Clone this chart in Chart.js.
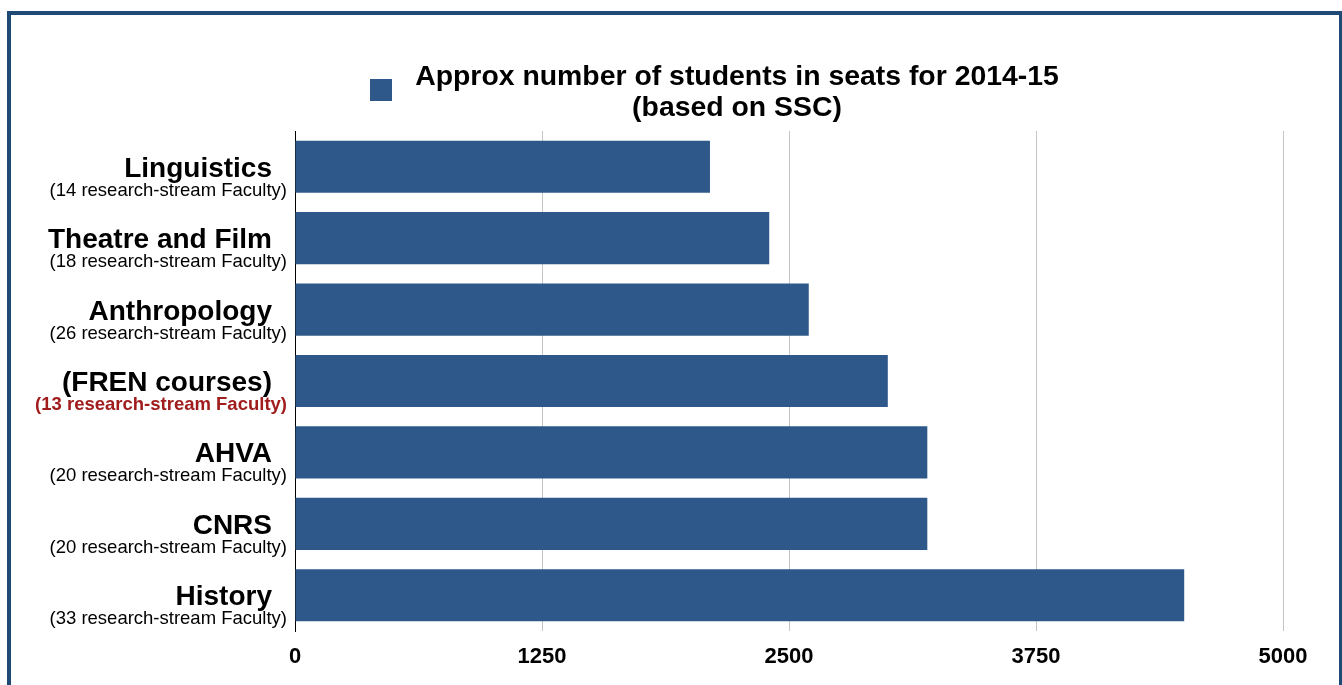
<!DOCTYPE html>
<html>
<head>
<meta charset="utf-8">
<script src="https://cdn.jsdelivr.net/npm/chart.js@4"></script>
<style>
  html, body { margin: 0; padding: 0; background: #fff; }
  #wrap { position: relative; width: 1342px; height: 685px; overflow: hidden; }
  #frame { position: absolute; left: 7px; top: 11px; width: 1328px; height: 700px;
           border: 4px solid #1f4a75; border-bottom: none; }
  canvas { position: absolute; left: 0; top: 0; }
</style>
</head>
<body>
<div id="wrap">
  <div id="frame"></div>
  <canvas id="chart" width="1342" height="685"></canvas>
</div>
<script>
// ---------- Data ----------
const departments = ['Linguistics', 'Theatre and Film', 'Anthropology', '(FREN courses)', 'AHVA', 'CNRS', 'History'];
const faculty = [
  '(14 research-stream Faculty)',
  '(18 research-stream Faculty)',
  '(26 research-stream Faculty)',
  '(13 research-stream Faculty)',
  '(20 research-stream Faculty)',
  '(20 research-stream Faculty)',
  '(33 research-stream Faculty)',
];
const highlighted = [false, false, false, true, false, false, false];
const seats = [2100, 2400, 2600, 3000, 3200, 3200, 4500];
const xTicks = [0, 1250, 2500, 3750, 5000];
const seriesTitle = ['Approx number of students in seats for 2014-15', '(based on SSC)'];

const BAR = '#2e5889';
const FONT = '"Liberation Sans", Arial, Helvetica, sans-serif';

// ---------- Plugins ----------
// category labels: bold name + small faculty count underneath
const deptLabels = {
  id: 'deptLabels',
  afterDraw(chart) {
    const { ctx } = chart;
    const y = chart.scales.y;
    ctx.save();
    ctx.textAlign = 'right';
    ctx.textBaseline = 'alphabetic';
    departments.forEach((name, i) => {
      const cy = y.getPixelForValue(i);
      ctx.fillStyle = '#000';
      ctx.font = `bold 28px ${FONT}`;
      ctx.fillText(name, y.right - 23, cy + 10);
      ctx.fillStyle = highlighted[i] ? '#a11d1d' : '#000';
      ctx.font = highlighted[i] ? `bold 18.5px ${FONT}` : `18.5px ${FONT}`;
      ctx.fillText(faculty[i], y.right - 8, cy + 29);
    });
    ctx.restore();
  },
};

// legend with a two-line label
const twoLineLegend = {
  id: 'twoLineLegend',
  afterDraw(chart) {
    const { ctx } = chart;
    ctx.save();
    ctx.fillStyle = BAR;
    ctx.fillRect(370, 79, 22, 22);
    ctx.fillStyle = '#000';
    ctx.textAlign = 'center';
    ctx.textBaseline = 'alphabetic';
    ctx.font = `bold 28.4px ${FONT}`;
    ctx.fillText(seriesTitle[0], 737, 85);
    ctx.fillText(seriesTitle[1], 737, 116);
    ctx.restore();
  },
};

// ---------- Chart ----------
new Chart(document.getElementById('chart').getContext('2d'), {
  type: 'bar',
  data: {
    labels: departments,
    datasets: [{
      label: seriesTitle.join(' '),
      data: seats,
      backgroundColor: BAR,
      borderWidth: 0,
      barPercentage: 0.73,
      categoryPercentage: 1,
    }],
  },
  options: {
    indexAxis: 'y',
    responsive: false,
    animation: false,
    layout: { padding: { top: 131, right: 59, left: 0, bottom: 0 } },
    plugins: {
      legend: { display: false },
      tooltip: { enabled: false },
    },
    scales: {
      x: {
        min: 0, max: 5000,
        afterBuildTicks: (s) => { s.ticks = xTicks.map((v) => ({ value: v })); },
        afterFit: (s) => { s.height = 54; },
        ticks: {
          callback: (v) => String(v),
          color: '#000',
          font: { family: FONT, size: 22, weight: 'bold' },
          padding: 13,
          maxRotation: 0,
        },
        grid: { color: '#c4c4c4', lineWidth: 1, drawTicks: false },
        border: { display: false },
      },
      y: {
        afterFit: (s) => { s.width = 295; },
        ticks: { display: false },
        grid: { display: false, drawTicks: false },
        border: { display: true, color: '#000', width: 1 },
      },
    },
  },
  plugins: [deptLabels, twoLineLegend],
});
</script>
</body>
</html>
